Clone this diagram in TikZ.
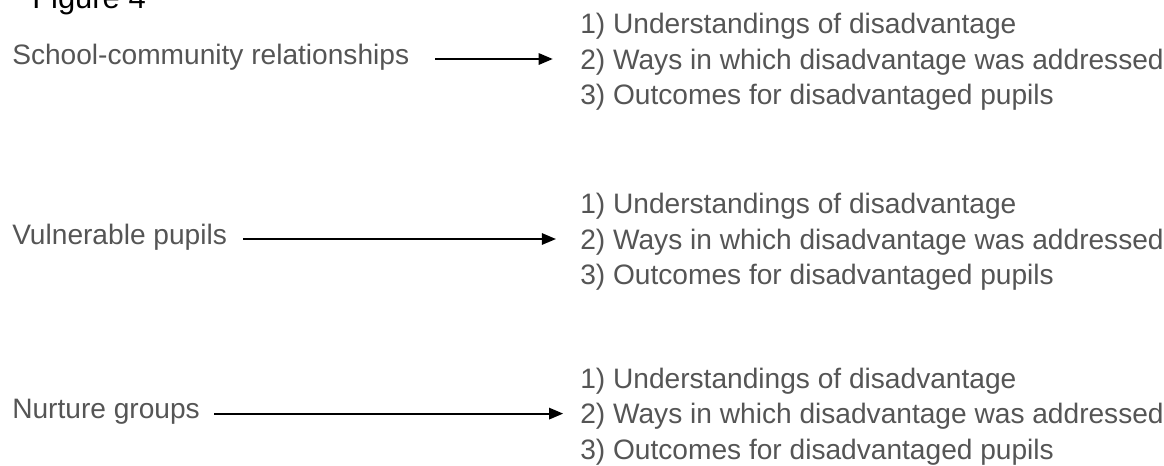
\documentclass[tikz,border=0pt]{standalone}
\usepackage{fontspec}
\setmainfont{Liberation Sans}
\usepackage{xcolor}
\usepackage{tikz}
\usetikzlibrary{arrows.meta, positioning}

\definecolor{labelgray}{HTML}{555555}

\begin{document}
\begin{tikzpicture}[
    >=Stealth,
    theme/.style={anchor=west, inner sep=0pt, text=labelgray, font=\fontsize{20}{25}\selectfont, text height=0.73em, text depth=0pt},
    findings/.style={anchor=west, inner sep=0pt, text=labelgray, align=left, font=\fontsize{20}{25.3}\selectfont, text depth=0pt},
    arrow/.style={-{Triangle[length=10pt, width=8pt]}, line width=1.5pt, draw=black}
]

% page frame
\useasboundingbox (0,0) rectangle (29.1,-11.625);

% caption (top is clipped by the page)
\node[anchor=base west, inner sep=0pt, font=\fontsize{22}{26}\selectfont] (caption) at (0.8,-0.2) {Figure 4};

% =============================================================
% Themes (left column)
% =============================================================
\node[theme] (school) at (0.3,-1.475) {School-community relationships};
\node[theme] (vulnerable) at (0.3,-5.975) {Vulnerable pupils};
\node[theme] (nurture) at (0.3,-10.34) {Nurture groups};

% =============================================================
% Findings (right column)
% =============================================================
\node[findings] (list1) at (14.5,-1.475) {1) Understandings of disadvantage\\2) Ways in which disadvantage was addressed\\3) Outcomes for disadvantaged pupils};
\node[findings] (list2) at (14.5,-5.975) {1) Understandings of disadvantage\\2) Ways in which disadvantage was addressed\\3) Outcomes for disadvantaged pupils};
\node[findings] (list3) at (14.5,-10.34) {1) Understandings of disadvantage\\2) Ways in which disadvantage was addressed\\3) Outcomes for disadvantaged pupils};

% Theme -> findings
\draw[arrow, shorten <=0.65cm, shorten >=0.68cm] (school.east) -- (school.east -| list1.west);
\draw[arrow, shorten <=0.4cm, shorten >=0.6cm] (vulnerable.east) -- (vulnerable.east -| list2.west);
\draw[arrow, shorten <=0.35cm, shorten >=0.42cm] (nurture.east) -- (nurture.east -| list3.west);

\end{tikzpicture}
\end{document}
